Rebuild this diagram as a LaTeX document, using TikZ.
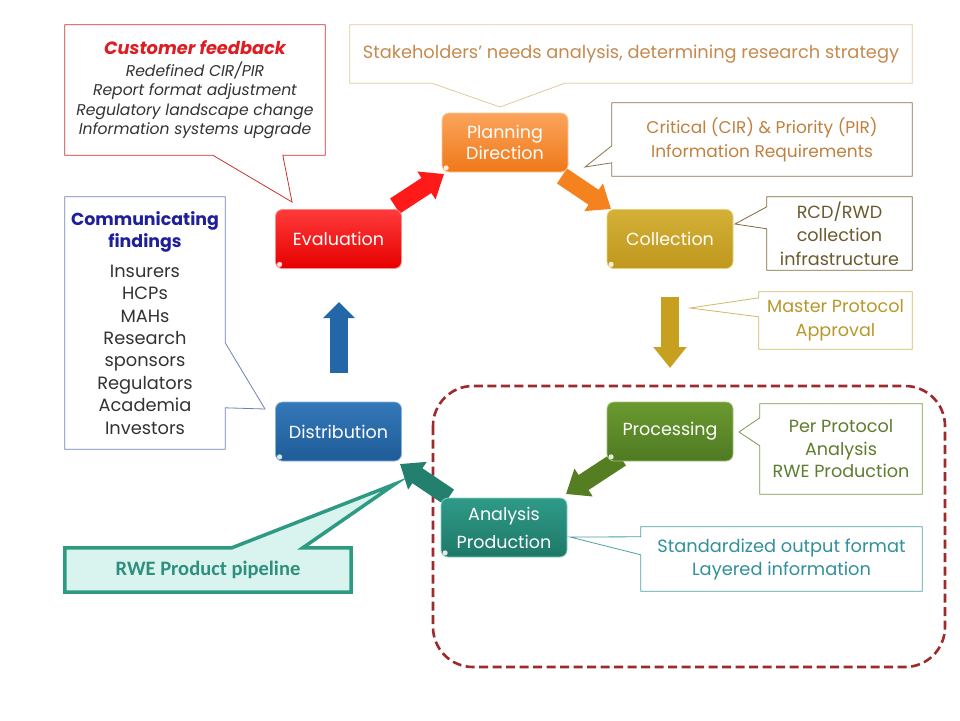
\documentclass[tikz,border=0pt]{standalone}
\usepackage{fontspec}
\setmainfont{Poppins}
\newfontfamily\calfont{Carlito}
\usetikzlibrary{arrows.meta,calc,backgrounds}
\definecolor{evalL}{HTML}{FF3A3A}\definecolor{evalD}{HTML}{E60000}\definecolor{evalB}{HTML}{FF8A8A}
\definecolor{planL}{HTML}{FBA45C}\definecolor{planD}{HTML}{F07818}\definecolor{planB}{HTML}{FCCB9C}
\definecolor{collL}{HTML}{D4B038}\definecolor{collD}{HTML}{BF981C}\definecolor{collB}{HTML}{EAD274}
\definecolor{procL}{HTML}{6A9A30}\definecolor{procD}{HTML}{4E7A22}\definecolor{procB}{HTML}{A4C474}
\definecolor{anaL}{HTML}{2F9A88}\definecolor{anaD}{HTML}{1F7868}\definecolor{anaB}{HTML}{84D2C2}
\definecolor{distL}{HTML}{3478B8}\definecolor{distD}{HTML}{1F5C98}\definecolor{distB}{HTML}{84B2E0}
\definecolor{cfB}{HTML}{C8322E}\definecolor{cfT}{HTML}{DC1E24}\definecolor{grayT}{HTML}{333333}
\definecolor{cmB}{HTML}{7080B8}\definecolor{cmT}{HTML}{1F1F9A}
\definecolor{shB}{HTML}{E2C99B}\definecolor{shT}{HTML}{C58A4E}
\definecolor{crB}{HTML}{8C7450}\definecolor{crT}{HTML}{C0813F}
\definecolor{rcB}{HTML}{7F6A3A}\definecolor{rcT}{HTML}{6B5A2E}
\definecolor{mpB}{HTML}{D0B865}\definecolor{mpT}{HTML}{B8982B}
\definecolor{ppB}{HTML}{7A9A4A}\definecolor{ppT}{HTML}{5E7D2E}
\definecolor{stB}{HTML}{4AA0AA}\definecolor{stT}{HTML}{31909A}
\definecolor{rwB}{HTML}{2E9A84}\definecolor{rwF}{HTML}{D9F4EE}\definecolor{rwT}{HTML}{2D8F7C}
\definecolor{dashR}{HTML}{9E2A2B}
\definecolor{arR}{HTML}{FF1A1A}\definecolor{arO}{HTML}{F4821E}\definecolor{arG}{HTML}{C8A020}
\definecolor{arP}{HTML}{557D22}\definecolor{arT}{HTML}{23806F}\definecolor{arB}{HTML}{2467A8}
\newcommand{\cftitle}[1]{{\fontsize{17.8}{21}\selectfont\bfseries\color{cfT}#1}}
\newcommand{\cmtitle}[1]{{\fontsize{17.4}{23}\selectfont\bfseries\color{cmT}#1}}
\begin{document}
\begin{tikzpicture}[x=1pt,y=-1pt,
  stagebox/.style={rounded corners=7pt, minimum width=126pt, minimum height=59pt,
     text=white, font=\fontsize{17.5}{21}\selectfont, align=center, inner sep=0pt, line width=0.8pt},
  callout/.style={inner sep=0pt, align=center, font=\fontsize{17.6}{23.5}\selectfont},
  outline/.style={line width=0.8pt, fill=white},
  blockarrow/.style={line width=18pt, -{Triangle[width=32pt,length=21pt]}},
  gloss/.style={fill=white, opacity=0.85}
]
\useasboundingbox (0,0) rectangle (960,720);

% dashed region
\draw[dashR, line width=2.6pt, dash pattern=on 9pt off 4.5pt, rounded corners=40pt] (433,386) rectangle (945,667);

% block arrows (behind the stage boxes)
\coordinate (a1s) at (395,206); \coordinate (a1e) at (444,174);
\coordinate (a2s) at (562,176); \coordinate (a2e) at (611,209);
\coordinate (a3s) at (670,297); \coordinate (a3e) at (670,368);
\coordinate (a4s) at (621,458); \coordinate (a4e) at (566,494);
\coordinate (a5s) at (449,497); \coordinate (a5e) at (400,464);
\coordinate (a6s) at (339,373); \coordinate (a6e) at (339,302);
\draw[blockarrow, arR] (a1s) -- (a1e);
\draw[blockarrow, arO] (a2s) -- (a2e);
\draw[blockarrow, arG] (a3s) -- (a3e);
\draw[blockarrow, arP] (a4s) -- (a4e);
\draw[blockarrow, arT] (a5s) -- (a5e);
\draw[blockarrow, arB, line width=18pt, -{Triangle[width=31pt,length=16pt]}] (a6s) -- (a6e);

% stage boxes
\node[stagebox, top color=planL, bottom color=planD, draw=planB] (plan) at (505,142.5) {Planning\\Direction};
\node[stagebox, top color=evalL, bottom color=evalD, draw=evalB] (eval) at (338.5,239) {Evaluation};
\node[stagebox, top color=collL, bottom color=collD, draw=collB] (coll) at (670,239) {Collection};
\node[stagebox, top color=procL, bottom color=procD, draw=procB] (proc) at (670,431.5) {Processing};
\node[stagebox, top color=anaL, bottom color=anaD, draw=anaB, font=\fontsize{17.5}{28}\selectfont] (ana) at (504,527.5) {Analysis\\Production};
\node[stagebox, top color=distL, bottom color=distD, draw=distB] (dist) at (338.5,431.5) {Distribution};
\foreach \n in {plan,eval,coll,proc,ana,dist}{
  \fill[gloss] ($(\n.south west)+(4.5,-4.5)$) circle (2.6pt);
}

% callouts text
\node[callout, minimum width=260pt, minimum height=130pt, text=grayT, font=\fontsize{15.6}{19.5}\selectfont\itshape] (cf) at (195,90)
  {\cftitle{Customer feedback}\\[2pt]Redefined CIR/PIR\\Report format adjustment\\Regulatory landscape change\\Information systems upgrade};
\node[callout, minimum width=562pt, minimum height=58pt, text=shT, font=\fontsize{17.8}{23}\selectfont] (sh) at (631,54) {Stakeholders' needs analysis, determining research strategy};
\node[callout, minimum width=300pt, minimum height=73pt, text=crT, font=\fontsize{17}{24}\selectfont] (crit) at (762,139.5) {Critical (CIR) \& Priority (PIR)\\Information Requirements};
\node[callout, minimum width=145pt, minimum height=73pt, text=rcT] (rcd) at (839.5,233.5) {RCD/RWD\\collection\\infrastructure};
\node[callout, minimum width=153pt, minimum height=57pt, text=mpT] (mp) at (835.5,320.5) {Master Protocol\\Approval};
\node[callout, minimum width=162pt, minimum height=90pt, text=ppT, font=\fontsize{17.6}{22.5}\selectfont] (pp) at (841,449) {Per Protocol\\Analysis\\RWE Production};
\node[callout, minimum width=281pt, minimum height=64pt, text=stT, font=\fontsize{17.8}{23}\selectfont] (std) at (781.5,559) {Standardized output format\\Layered information};
\node[callout, minimum width=160pt, minimum height=252pt, text=grayT, font=\fontsize{17.8}{22.4}\selectfont] (comm) at (145,323)
  {\cmtitle{Communicating}\\\cmtitle{findings}\\[7pt]Insurers\\HCPs\\MAHs\\Research\\sponsors\\Regulators\\Academia\\Investors};
\node[callout, minimum width=286pt, minimum height=44pt, text=rwT, font=\calfont\fontsize{20.5}{22}\selectfont\bfseries] (rwe) at (208,570) {RWE Product pipeline};

% pointer tips
\coordinate (cfTip) at (292,202);
\coordinate (shTip) at (500,107);
\coordinate (crTip) at (585,167);
\coordinate (rcTip) at (735,224);
\coordinate (mpTip) at (690,308);
\coordinate (ppTip) at (739,432);
\coordinate (stTip) at (570,537);
\coordinate (cmTip) at (265,409);
\coordinate (rwTip) at (395,484);

\begin{scope}[on background layer]
\fill[white] (0,0) rectangle (960,720);
\draw[outline, draw=cfB] (cf.north west) -- (cf.north east) -- (cf.south east)
  -- ($(cf.south west)+(218,0)$) -- (cfTip) -- ($(cf.south west)+(148,0)$) -- (cf.south west) -- cycle;
\draw[outline, draw=shB] (sh.north west) -- (sh.north east) -- (sh.south east)
  -- ($(sh.south west)+(215,0)$) -- (shTip) -- ($(sh.south west)+(82,0)$) -- (sh.south west) -- cycle;
\draw[outline, draw=crB] (crit.north west) -- (crit.north east) -- (crit.south east) -- (crit.south west)
  -- ($(crit.north west)+(0,60)$) -- (crTip) -- ($(crit.north west)+(0,43)$) -- cycle;
\draw[outline, draw=rcB] (rcd.north west) -- (rcd.north east) -- (rcd.south east) -- (rcd.south west)
  -- ($(rcd.north west)+(0,32)$) -- (rcTip) -- ($(rcd.north west)+(0,10)$) -- cycle;
\draw[outline, draw=mpB] (mp.north west) -- (mp.north east) -- (mp.south east) -- (mp.south west)
  -- ($(mp.north west)+(0,25)$) -- (mpTip) -- ($(mp.north west)+(0,6)$) -- cycle;
\draw[outline, draw=ppB] (pp.north west) -- (pp.north east) -- (pp.south east) -- (pp.south west)
  -- ($(pp.north west)+(0,42)$) -- (ppTip) -- ($(pp.north west)+(0,14)$) -- cycle;
\draw[outline, draw=stB] (std.north west) -- (std.north east) -- (std.south east) -- (std.south west)
  -- ($(std.north west)+(0,28)$) -- (stTip) -- ($(std.north west)+(0,10)$) -- cycle;
\draw[outline, draw=cmB] (comm.north west) -- (comm.north east) -- ($(comm.north east)+(0,146)$)
  -- (cmTip) -- ($(comm.north east)+(0,211)$) -- (comm.south east) -- (comm.south west) -- cycle;
\draw[line width=3.5pt, draw=rwB, fill=rwF] (rwe.north west) -- ($(rwe.north west)+(167,0)$) -- (rwTip)
  -- ($(rwe.north west)+(238,0)$) -- (rwe.north east) -- (rwe.south east) -- (rwe.south west) -- cycle;
\end{scope}
\end{tikzpicture}
\end{document}
